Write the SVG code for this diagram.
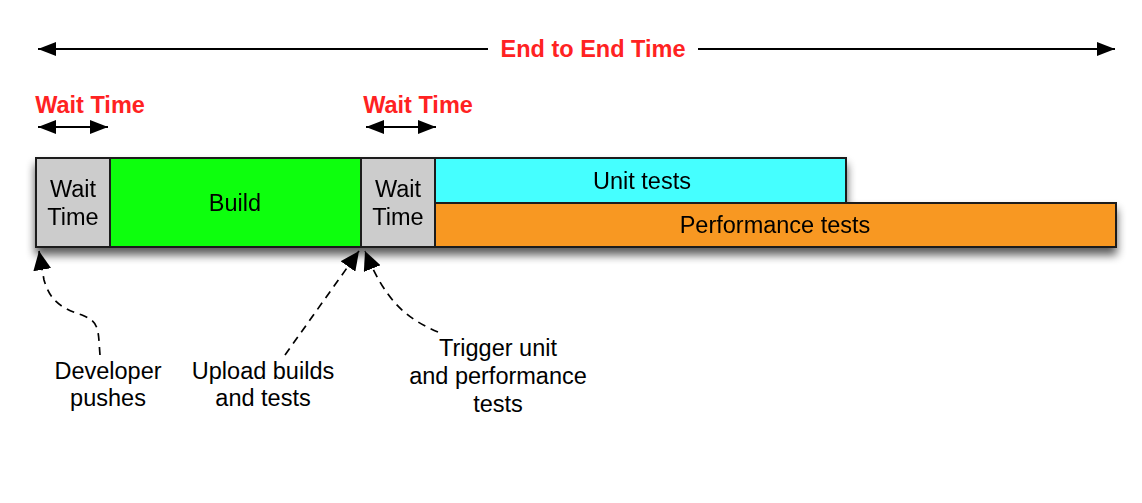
<svg xmlns="http://www.w3.org/2000/svg" width="1142" height="503" viewBox="0 0 1142 503">
<style>
.box{stroke:#1a1a1a;stroke-width:2}
.t{font-family:"Liberation Sans",Arial,sans-serif;font-size:23.5px;fill:#000;text-anchor:middle}
.r{font-family:"Liberation Sans",Arial,sans-serif;font-size:23.5px;font-weight:bold;fill:#ff2222;text-anchor:middle}
.ln{stroke:#000;stroke-width:2;fill:none}
.dash{stroke:#000;stroke-width:1.7;fill:none;stroke-dasharray:8,6}
</style>
<defs>
<marker id="ah" viewBox="0 0 18 14" refX="18" refY="7" markerWidth="18" markerHeight="14" markerUnits="userSpaceOnUse" orient="auto-start-reverse">
<path d="M0,0 L18,7 L0,14 Z" fill="#000"/>
</marker>
<marker id="ahd" viewBox="0 0 19 18" refX="19" refY="9" markerWidth="19" markerHeight="18" markerUnits="userSpaceOnUse" orient="auto">
<path d="M0,0 L19,9 L0,18 Z" fill="#000"/>
</marker>
<filter id="sh" x="-5%" y="-20%" width="110%" height="160%">
<feGaussianBlur in="SourceAlpha" stdDeviation="5"/>
<feOffset dx="0" dy="7" result="b"/>
<feComponentTransfer><feFuncA type="linear" slope="0.65"/></feComponentTransfer>
<feMerge><feMergeNode/><feMergeNode in="SourceGraphic"/></feMerge>
</filter>
</defs>
<g id="end-to-end">
<line class="ln" x1="38" y1="49" x2="488" y2="49" marker-start="url(#ah)"/>
<line class="ln" x1="698" y1="49" x2="1115" y2="49" marker-end="url(#ah)"/>
<text class="r" x="593" y="57">End to End Time</text>
</g>
<g id="wait-label-1">
<text class="r" x="90" y="113">Wait Time</text>
<line class="ln" x1="38" y1="127" x2="108" y2="127" marker-start="url(#ah)" marker-end="url(#ah)"/>
</g>
<g id="wait-label-2">
<text class="r" x="418" y="113">Wait Time</text>
<line class="ln" x1="366" y1="127" x2="436" y2="127" marker-start="url(#ah)" marker-end="url(#ah)"/>
</g>
<g filter="url(#sh)">
<g id="wait1"><rect class="box" x="36" y="158" width="74" height="89" fill="#cccccc"/>
<text class="t" x="73" y="197">Wait</text><text class="t" x="73" y="225">Time</text></g>
<g id="build"><rect class="box" x="110" y="158" width="251" height="89" fill="#11ff11"/>
<text class="t" x="235" y="211">Build</text></g>
<g id="wait2"><rect class="box" x="361" y="158" width="74" height="89" fill="#cccccc"/>
<text class="t" x="398" y="197">Wait</text><text class="t" x="398" y="225">Time</text></g>
<g id="unit"><rect class="box" x="435" y="158" width="411" height="45" fill="#44ffff"/>
<text class="t" x="642" y="189">Unit tests</text></g>
<g id="perf"><rect class="box" x="435" y="203" width="681" height="44" fill="#f89820"/>
<text class="t" x="775" y="233">Performance tests</text></g>
</g>
<g id="connectors">
<path class="dash" d="M100,355 C98,330 100,322 82,315 C60,308 50,300 44,280 L39,251" marker-end="url(#ahd)"/>
<path class="dash" d="M285,355 L359,251" marker-end="url(#ahd)"/>
<path class="dash" d="M438,332 C405,318 385,300 365,251" marker-end="url(#ahd)"/>
</g>
<g id="lbl-dev"><text class="t" x="108" y="379">Developer</text><text class="t" x="108" y="406">pushes</text></g>
<g id="lbl-upload"><text class="t" x="263" y="379">Upload builds</text><text class="t" x="263" y="406">and tests</text></g>
<g id="lbl-trigger"><text class="t" x="498" y="356">Trigger unit</text><text class="t" x="498" y="384">and performance</text><text class="t" x="498" y="412">tests</text></g>
</svg>
